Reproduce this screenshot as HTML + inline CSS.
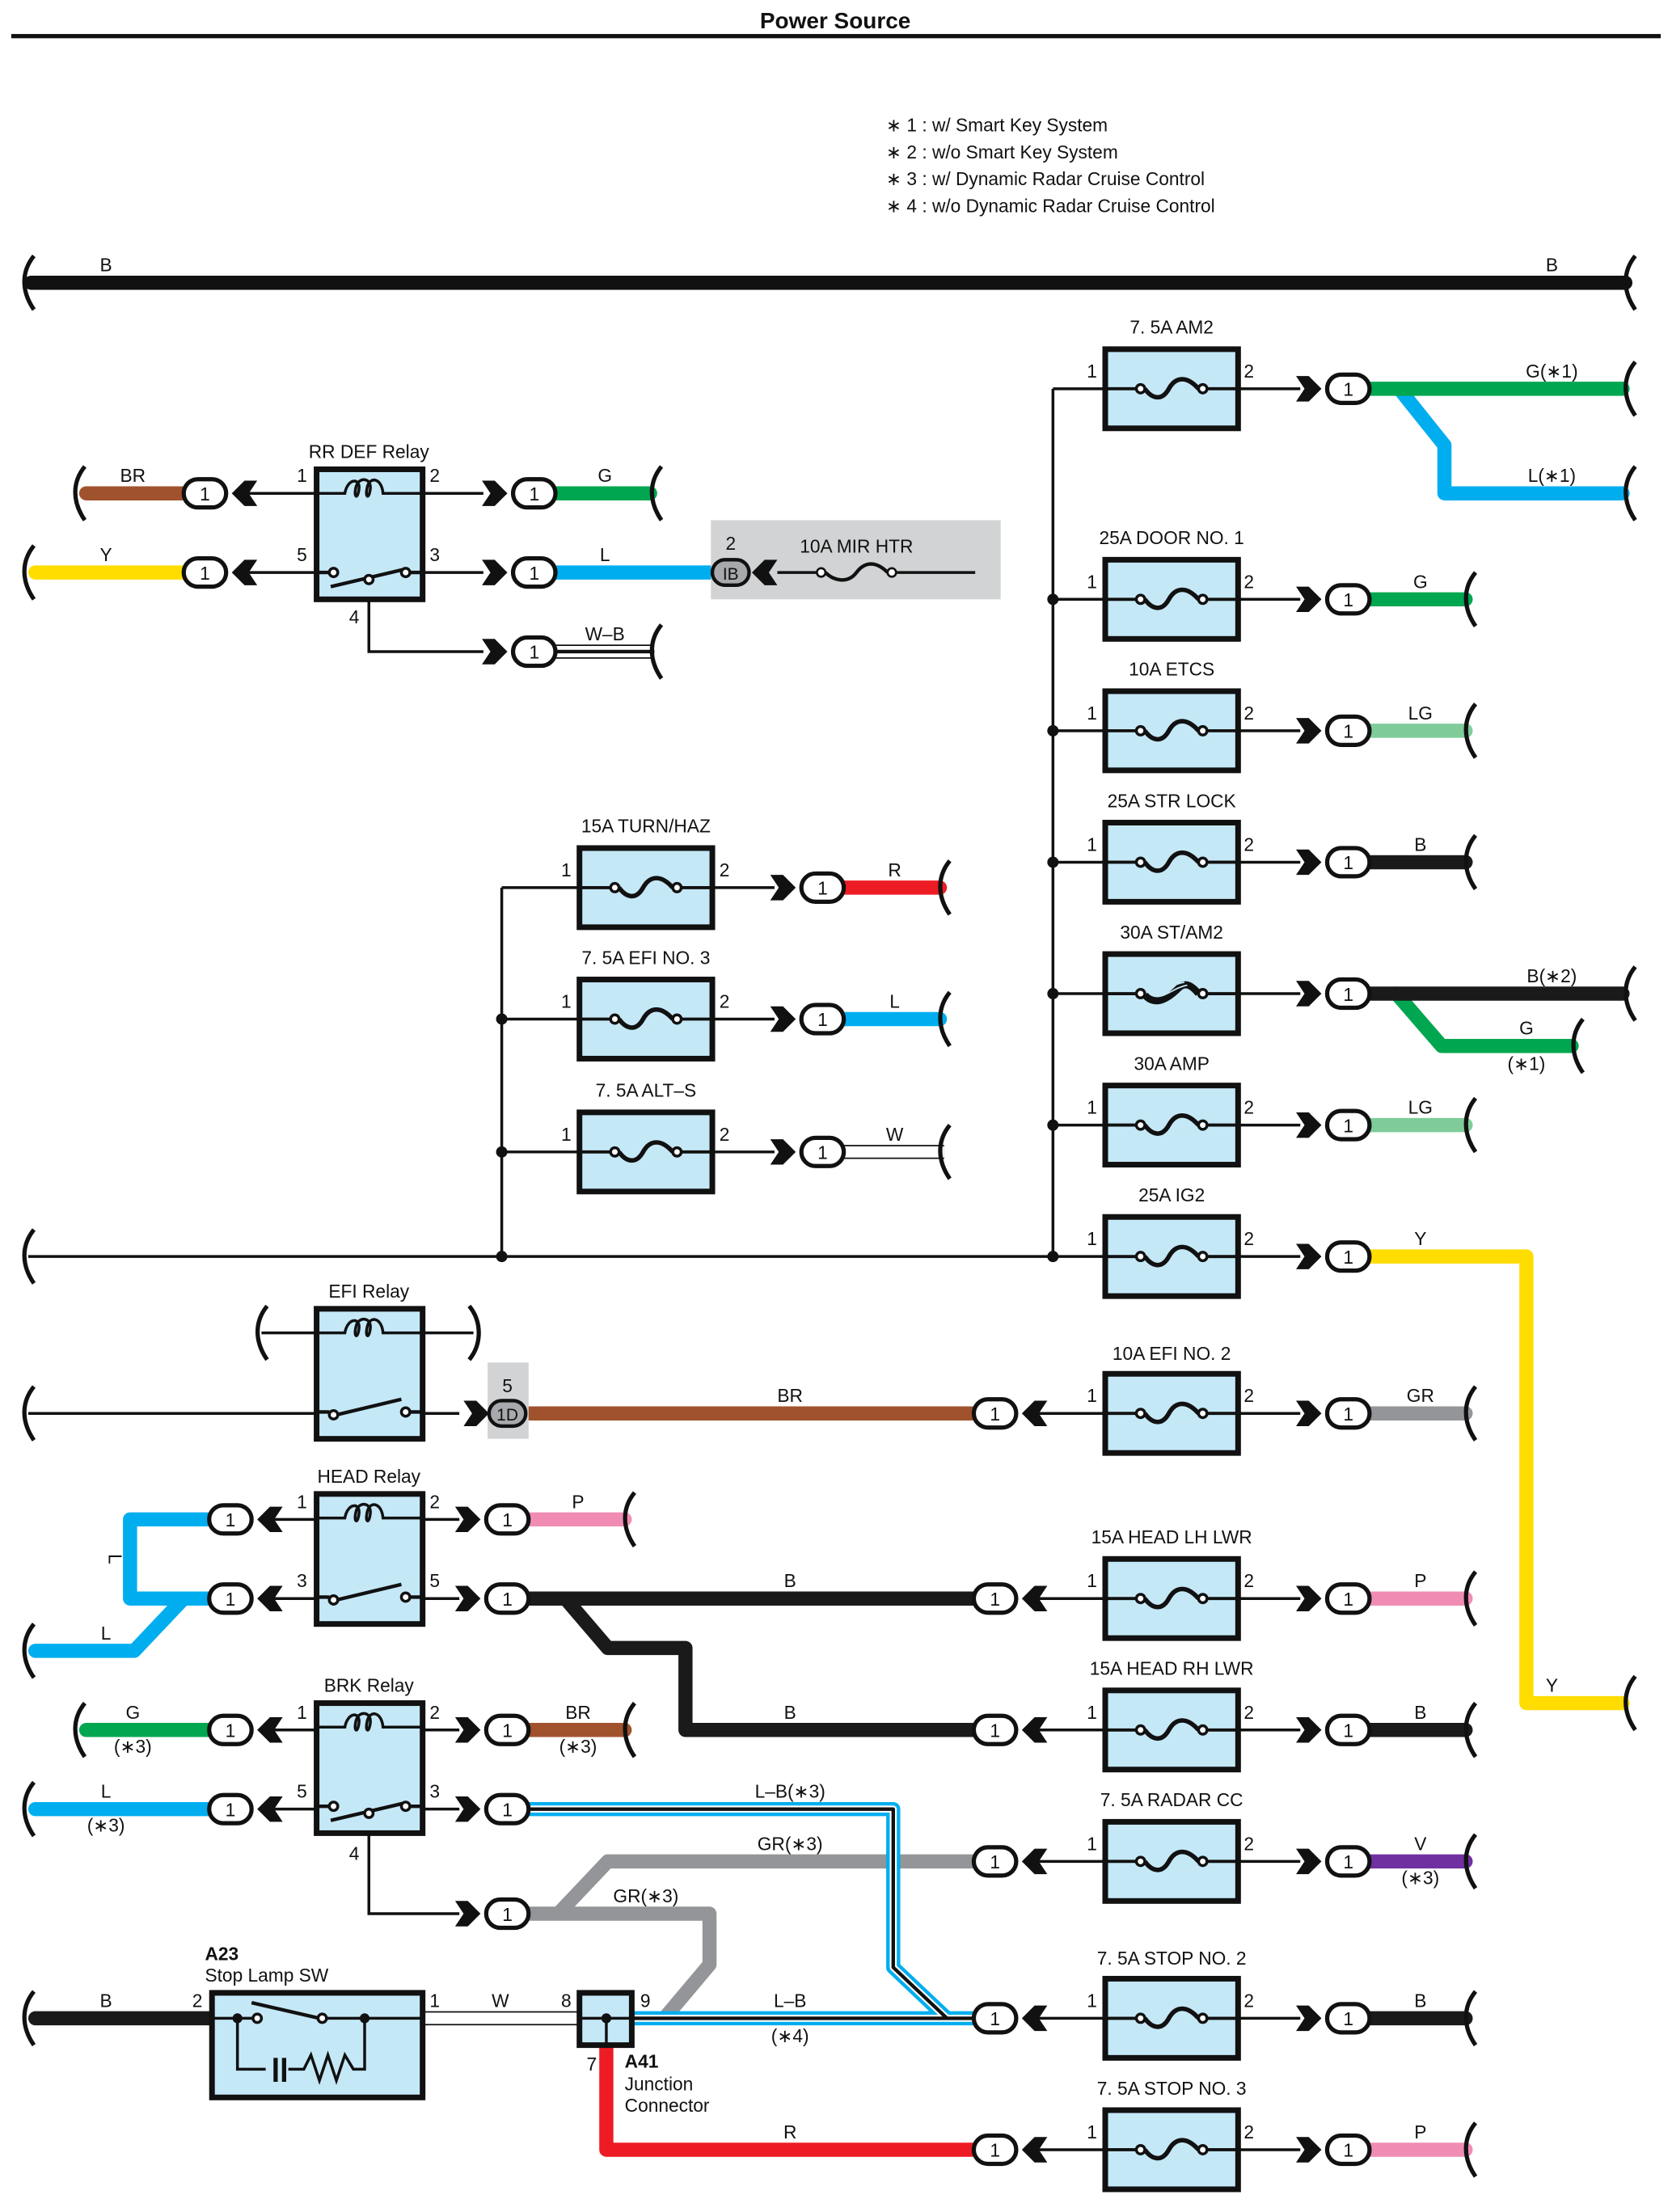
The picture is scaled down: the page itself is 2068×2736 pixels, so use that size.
<!DOCTYPE html>
<html><head><meta charset="utf-8"><style>
html,body{margin:0;padding:0;background:#fff}
svg{display:block}
text{font-family:"Liberation Sans",sans-serif;font-size:13px;fill:#111}
.c{text-anchor:middle}
</style></head><body>
<svg width="2068" height="2736" viewBox="0 0 1183 1565" xmlns="http://www.w3.org/2000/svg">
<defs>
<g id="fz"><rect x="0" y="0" width="94" height="56" fill="#c5e8f7" stroke="#111" stroke-width="4"/>
<path d="M-1,28H22M72,28H95" stroke="#111" stroke-width="2.2" fill="none"/>
<circle cx="25" cy="28" r="3" fill="#fff" stroke="#111" stroke-width="2"/><circle cx="69" cy="28" r="3" fill="#fff" stroke="#111" stroke-width="2"/>
<path d="M28,28C33,35 40,37 45,28C50,19 58,19 66,28" stroke="#111" stroke-width="3.2" fill="none"/></g>
<g id="fzb"><rect x="0" y="0" width="94" height="56" fill="#c5e8f7" stroke="#111" stroke-width="4"/>
<path d="M-1,28H22M72,28H95" stroke="#111" stroke-width="2.2" fill="none"/>
<circle cx="25" cy="28" r="3" fill="#fff" stroke="#111" stroke-width="2"/><circle cx="69" cy="28" r="3" fill="#fff" stroke="#111" stroke-width="2"/>
<path d="M28,29C36,38 46,30 52,24C57,19 62,23 66,28" stroke="#111" stroke-width="5" fill="none"/>
<path d="M36,30C44,30 48,24 58,22M38,26C44,26 48,21 56,20" stroke="#c5e8f7" stroke-width="1" fill="none"/></g>
<g id="cR"><polygon points="-37,-9 -28,-9 -19,0 -28,9 -37,9 -31,0" fill="#111"/><rect x="-15" y="-10" width="30" height="20" rx="10" fill="#fff" stroke="#111" stroke-width="3"/></g>
<g id="cL"><polygon points="37,-9 28,-9 19,0 28,9 37,9 31,0" fill="#111"/><rect x="-15" y="-10" width="30" height="20" rx="10" fill="#fff" stroke="#111" stroke-width="3"/></g>
<path id="br" d="M4,-19C-5,-8 -5,6 4,19" stroke="#111" stroke-width="3" fill="none"/>
<g id="rel"><rect x="0" y="0" width="75" height="92" fill="#c5e8f7" stroke="#111" stroke-width="4"/>
<path d="M-1,17H20C22,6 31,6 30,14C29,22 26,20 28,12C30,5 39,6 38,14C37,22 34,20 36,12C38,5 46,6 47,17H76" stroke="#111" stroke-width="2" fill="none"/>
<path d="M-1,73H9M66,73H76M10,83L61,71" stroke="#111" stroke-width="2.5" fill="none"/>
<circle cx="12" cy="73" r="3" fill="#fff" stroke="#111" stroke-width="2"/><circle cx="63" cy="73" r="3" fill="#fff" stroke="#111" stroke-width="2"/><circle cx="37" cy="78" r="3" fill="#fff" stroke="#111" stroke-width="2"/></g>
<g id="rel2"><rect x="0" y="0" width="75" height="92" fill="#c5e8f7" stroke="#111" stroke-width="4"/>
<path d="M-1,17H20C22,6 31,6 30,14C29,22 26,20 28,12C30,5 39,6 38,14C37,22 34,20 36,12C38,5 46,6 47,17H76" stroke="#111" stroke-width="2" fill="none"/>
<path d="M-1,73H9M66,73H76M14,75L60,64" stroke="#111" stroke-width="2.5" fill="none"/>
<circle cx="12" cy="75" r="3" fill="#fff" stroke="#111" stroke-width="2"/><circle cx="63" cy="73" r="3" fill="#fff" stroke="#111" stroke-width="2"/></g>
</defs>

<!-- title -->
<text x="591" y="20" class="c" style="font-size:16px;font-weight:bold">Power Source</text>
<rect x="8" y="24" width="1167" height="3" fill="#111"/>
<text x="627" y="93">∗ 1 : w/ Smart Key System</text>
<text x="627" y="112">∗ 2 : w/o Smart Key System</text>
<text x="627" y="131">∗ 3 : w/ Dynamic Radar Cruise Control</text>
<text x="627" y="150">∗ 4 : w/o Dynamic Radar Cruise Control</text>

<!-- B bus -->
<line x1="22" y1="200" x2="1150" y2="200" stroke="#111" stroke-width="10" stroke-linecap="round"/>
<use href="#br" x="20" y="200"/><use href="#br" x="1153" y="200"/>
<text x="75" y="192" class="c">B</text><text x="1098" y="192" class="c">B</text>

<!-- thin wires -->
<g stroke="#111" stroke-width="2" fill="none">
<path d="M20,889H782M745,275V889M355,628V889"/>
<path d="M745,275H782M745,424H782M745,517H782M745,610H782M745,703H782M745,796H782"/>
<path d="M355,628H410M355,721H410M355,815H410"/>
<path d="M876,275H920M876,424H920M876,517H920M876,610H920M876,703H920M876,796H920M876,889H920M876,1000H920M876,1131H920M876,1224H920M876,1317H920M876,1428H920M876,1521H920"/>
<path d="M504,628H548M504,721H548M504,815H548"/>
<path d="M725,1000H782M725,1131H782M725,1224H782M725,1317H782M725,1428H782M725,1521H782"/>
<path d="M165,349H224M165,405H224M299,349H342M299,405H342M261,424V461H342"/>
<path d="M20,1000H224M299,1000H325M185,943H224M299,943H335"/>
<path d="M183,1075H224M183,1131H224M299,1075H325M299,1131H325"/>
<path d="M183,1224H224M183,1280H224M299,1224H325M299,1280H325M261,1298V1354H325"/>
<path d="M555,405H690"/>
</g>
<g fill="#111"><circle cx="745" cy="424" r="4"/><circle cx="745" cy="517" r="4"/><circle cx="745" cy="610" r="4"/><circle cx="745" cy="703" r="4"/><circle cx="745" cy="796" r="4"/><circle cx="745" cy="889" r="4"/><circle cx="355" cy="721" r="4"/><circle cx="355" cy="815" r="4"/><circle cx="355" cy="889" r="4"/></g>
<use href="#br" x="20" y="889"/><use href="#br" x="20" y="1000"/><use href="#br" x="185" y="943"/>
<path d="M332,924C341,935 341,951 332,962" stroke="#111" stroke-width="3" fill="none"/>

<!-- right fuses -->
<use href="#fz" x="782" y="247"/><use href="#fz" x="782" y="396"/><use href="#fz" x="782" y="489"/><use href="#fz" x="782" y="582"/><use href="#fzb" x="782" y="675"/><use href="#fz" x="782" y="768"/><use href="#fz" x="782" y="861"/><use href="#fz" x="782" y="972"/><use href="#fz" x="782" y="1103"/><use href="#fz" x="782" y="1196"/><use href="#fz" x="782" y="1289"/><use href="#fz" x="782" y="1400"/><use href="#fz" x="782" y="1493"/>
<g class="c">
<text x="829" y="236" class="c">7. 5A AM2</text><text x="829" y="385" class="c">25A DOOR NO. 1</text><text x="829" y="478" class="c">10A ETCS</text><text x="829" y="571" class="c">25A STR LOCK</text><text x="829" y="664" class="c">30A ST/AM2</text><text x="829" y="757" class="c">30A AMP</text><text x="829" y="850" class="c">25A IG2</text><text x="829" y="962" class="c">10A EFI NO. 2</text><text x="829" y="1092" class="c">15A HEAD LH LWR</text><text x="829" y="1185" class="c">15A HEAD RH LWR</text><text x="829" y="1278" class="c">7. 5A RADAR CC</text><text x="829" y="1390" class="c">7. 5A STOP NO. 2</text><text x="829" y="1482" class="c">7. 5A STOP NO. 3</text>
</g>
<g>
<text x="769" y="267">1</text><text x="880" y="267">2</text>
<text x="769" y="416">1</text><text x="880" y="416">2</text>
<text x="769" y="509">1</text><text x="880" y="509">2</text>
<text x="769" y="602">1</text><text x="880" y="602">2</text>
<text x="769" y="788">1</text><text x="880" y="788">2</text>
<text x="769" y="881">1</text><text x="880" y="881">2</text>
<text x="769" y="992">1</text><text x="880" y="992">2</text>
<text x="769" y="1123">1</text><text x="880" y="1123">2</text>
<text x="769" y="1216">1</text><text x="880" y="1216">2</text>
<text x="769" y="1309">1</text><text x="880" y="1309">2</text>
<text x="769" y="1420">1</text><text x="880" y="1420">2</text>
<text x="769" y="1513">1</text><text x="880" y="1513">2</text>
</g>

<!-- mid fuses -->
<use href="#fz" x="410" y="600"/><use href="#fz" x="410" y="693"/><use href="#fz" x="410" y="787"/>
<text x="457" y="589" class="c">15A TURN/HAZ</text><text x="457" y="682" class="c">7. 5A EFI NO. 3</text><text x="457" y="776" class="c">7. 5A ALT–S</text>
<text x="397" y="620">1</text><text x="509" y="620">2</text><text x="397" y="713">1</text><text x="509" y="713">2</text><text x="397" y="807">1</text><text x="509" y="807">2</text>

<!-- colored wires -->
<g fill="none" stroke-linejoin="round" stroke-linecap="round">
<path d="M990,275L1022,315V349H1148" stroke="#00aeef" stroke-width="10"/>
<path d="M968,275H1148" stroke="#00a650" stroke-width="10"/>
<path d="M968,424H1037" stroke="#00a650" stroke-width="10"/>
<path d="M968,517H1037" stroke="#7fcc9a" stroke-width="10"/>
<path d="M968,610H1037" stroke="#1a1a1a" stroke-width="10"/>
<path d="M988,703L1020,740H1112" stroke="#00a650" stroke-width="10"/>
<path d="M968,703H1148" stroke="#1a1a1a" stroke-width="10"/>
<path d="M968,796H1037" stroke="#7fcc9a" stroke-width="10"/>
<path d="M968,889H1080V1205H1148" stroke="#ffdd00" stroke-width="10"/>
<path d="M968,1000H1037" stroke="#939598" stroke-width="10"/>
<path d="M968,1131H1037" stroke="#f08cb4" stroke-width="10"/>
<path d="M968,1224H1037" stroke="#1a1a1a" stroke-width="10"/>
<path d="M968,1317H1037" stroke="#7030a0" stroke-width="10"/>
<path d="M968,1428H1037" stroke="#1a1a1a" stroke-width="10"/>
<path d="M968,1521H1037" stroke="#f08cb4" stroke-width="10"/>
<path d="M596,628H665" stroke="#ed1c24" stroke-width="10"/>
<path d="M596,721H665" stroke="#00aeef" stroke-width="10"/>
<path d="M392,349H460" stroke="#00a650" stroke-width="10"/>
<path d="M392,405H503" stroke="#00aeef" stroke-width="10"/>
<path d="M61,349H131" stroke="#a0522d" stroke-width="10"/>
<path d="M25,405H131" stroke="#ffdd00" stroke-width="10"/>
<path d="M373,1000H690" stroke="#a0522d" stroke-width="10"/>
<path d="M149,1075H92V1131H149M130,1131L95,1168H25" stroke="#00aeef" stroke-width="10"/>
<path d="M373,1075H442" stroke="#f08cb4" stroke-width="10"/>
<path d="M373,1131H690M400,1131L430,1166H485V1224H690" stroke="#1a1a1a" stroke-width="10"/>
<path d="M61,1224H149" stroke="#00a650" stroke-width="10"/>
<path d="M25,1280H149" stroke="#00aeef" stroke-width="10"/>
<path d="M373,1224H442" stroke="#a0522d" stroke-width="10"/>
<path d="M690,1317H430L395,1354M373,1354H502V1390L470,1428" stroke="#939598" stroke-width="10"/>
<path d="M373,1280H632V1392L670,1428H690M447,1428H690" stroke="#00aeef" stroke-width="10"/>
<path d="M373,1280H632V1392L670,1428H690M447,1428H690" stroke="#fff" stroke-width="5"/>
<path d="M373,1280H632V1392L670,1428H690M447,1428H690" stroke="#111" stroke-width="2.5"/>
<path d="M25,1428H150" stroke="#1a1a1a" stroke-width="10"/>
<path d="M429,1448V1521H690" stroke="#ed1c24" stroke-width="10"/>
</g>
<g fill="none"><path d="M596,815H668M392,461H463M299,1428H410" stroke="#111" stroke-width="10"/><path d="M596,815H668M392,461H463M299,1428H410" stroke="#fff" stroke-width="8"/><path d="M392,461H463" stroke="#111" stroke-width="2.5"/></g>

<!-- brackets -->
<use href="#br" x="1040" y="424"/><use href="#br" x="1040" y="517"/><use href="#br" x="1040" y="610"/><use href="#br" x="1040" y="796"/><use href="#br" x="1040" y="1000"/><use href="#br" x="1040" y="1131"/><use href="#br" x="1040" y="1224"/><use href="#br" x="1040" y="1317"/><use href="#br" x="1040" y="1428"/><use href="#br" x="1040" y="1521"/>
<use href="#br" x="1153" y="275"/><use href="#br" x="1153" y="349"/><use href="#br" x="1153" y="703"/><use href="#br" x="1116" y="740"/><use href="#br" x="1153" y="1205"/>
<use href="#br" x="668" y="628"/><use href="#br" x="668" y="721"/><use href="#br" x="668" y="815"/>
<use href="#br" x="464" y="349"/><use href="#br" x="464" y="461"/><use href="#br" x="445" y="1075"/><use href="#br" x="445" y="1224"/>
<use href="#br" x="56" y="349"/><use href="#br" x="20" y="405"/><use href="#br" x="20" y="1168"/><use href="#br" x="56" y="1224"/><use href="#br" x="20" y="1280"/><use href="#br" x="20" y="1428"/>

<!-- connectors -->
<g>
<use href="#cR" x="954" y="275"/><use href="#cR" x="954" y="424"/><use href="#cR" x="954" y="517"/><use href="#cR" x="954" y="610"/><use href="#cR" x="954" y="703"/><use href="#cR" x="954" y="796"/><use href="#cR" x="954" y="889"/><use href="#cR" x="954" y="1000"/><use href="#cR" x="954" y="1131"/><use href="#cR" x="954" y="1224"/><use href="#cR" x="954" y="1317"/><use href="#cR" x="954" y="1428"/><use href="#cR" x="954" y="1521"/>
<use href="#cR" x="582" y="628"/><use href="#cR" x="582" y="721"/><use href="#cR" x="582" y="815"/>
<use href="#cR" x="378" y="349"/><use href="#cR" x="378" y="405"/><use href="#cR" x="378" y="461"/>
<use href="#cL" x="145" y="349"/><use href="#cL" x="145" y="405"/>
<use href="#cL" x="704" y="1000"/><use href="#cL" x="704" y="1131"/><use href="#cL" x="704" y="1224"/><use href="#cL" x="704" y="1317"/><use href="#cL" x="704" y="1428"/><use href="#cL" x="704" y="1521"/>
<use href="#cL" x="163" y="1075"/><use href="#cL" x="163" y="1131"/><use href="#cL" x="163" y="1224"/><use href="#cL" x="163" y="1280"/>
<use href="#cR" x="359" y="1075"/><use href="#cR" x="359" y="1131"/><use href="#cR" x="359" y="1224"/><use href="#cR" x="359" y="1280"/><use href="#cR" x="359" y="1354"/>
</g>
<g class="c" style="font-size:12px">
<text x="954" y="280" class="c">1</text><text x="954" y="429" class="c">1</text><text x="954" y="522" class="c">1</text><text x="954" y="615" class="c">1</text><text x="954" y="708" class="c">1</text><text x="954" y="801" class="c">1</text><text x="954" y="894" class="c">1</text><text x="954" y="1005" class="c">1</text><text x="954" y="1136" class="c">1</text><text x="954" y="1229" class="c">1</text><text x="954" y="1322" class="c">1</text><text x="954" y="1433" class="c">1</text><text x="954" y="1526" class="c">1</text>
<text x="582" y="633" class="c">1</text><text x="582" y="726" class="c">1</text><text x="582" y="820" class="c">1</text>
<text x="378" y="354" class="c">1</text><text x="378" y="410" class="c">1</text><text x="378" y="466" class="c">1</text>
<text x="145" y="354" class="c">1</text><text x="145" y="410" class="c">1</text>
<text x="704" y="1005" class="c">1</text><text x="704" y="1136" class="c">1</text><text x="704" y="1229" class="c">1</text><text x="704" y="1322" class="c">1</text><text x="704" y="1433" class="c">1</text><text x="704" y="1526" class="c">1</text>
<text x="163" y="1080" class="c">1</text><text x="163" y="1136" class="c">1</text><text x="163" y="1229" class="c">1</text><text x="163" y="1285" class="c">1</text>
<text x="359" y="1080" class="c">1</text><text x="359" y="1136" class="c">1</text><text x="359" y="1229" class="c">1</text><text x="359" y="1285" class="c">1</text><text x="359" y="1359" class="c">1</text>
</g>

<!-- wire labels -->
<g>
<text x="1098" y="267" class="c">G(∗1)</text><text x="1098" y="341" class="c">L(∗1)</text>
<text x="1005" y="416" class="c">G</text><text x="1005" y="509" class="c">LG</text><text x="1005" y="602" class="c">B</text>
<text x="1098" y="695" class="c">B(∗2)</text><text x="1080" y="732" class="c">G</text><text x="1080" y="757" class="c">(∗1)</text>
<text x="1005" y="788" class="c">LG</text><text x="1005" y="881" class="c">Y</text><text x="1005" y="992" class="c">GR</text>
<text x="1005" y="1123" class="c">P</text><text x="1098" y="1197" class="c">Y</text><text x="1005" y="1216" class="c">B</text>
<text x="1005" y="1309" class="c">V</text><text x="1005" y="1333" class="c">(∗3)</text><text x="1005" y="1420" class="c">B</text><text x="1005" y="1513" class="c">P</text>
<text x="633" y="620" class="c">R</text><text x="633" y="713" class="c">L</text><text x="633" y="807" class="c">W</text>
<text x="428" y="341" class="c">G</text><text x="428" y="397" class="c">L</text><text x="428" y="453" class="c">W–B</text>
<text x="94" y="341" class="c">BR</text><text x="75" y="397" class="c">Y</text>
<text x="559" y="992" class="c">BR</text>
<text x="409" y="1067" class="c">P</text><text x="559" y="1123" class="c">B</text><text x="559" y="1216" class="c">B</text>
<text x="75" y="1160" class="c">L</text><text x="77" y="1103" class="c" transform="rotate(90 77 1103)">L</text>
<text x="94" y="1216" class="c">G</text><text x="94" y="1240" class="c">(∗3)</text>
<text x="75" y="1272" class="c">L</text><text x="75" y="1296" class="c">(∗3)</text>
<text x="409" y="1216" class="c">BR</text><text x="409" y="1240" class="c">(∗3)</text>
<text x="559" y="1272" class="c">L–B(∗3)</text><text x="559" y="1309" class="c">GR(∗3)</text><text x="457" y="1346" class="c">GR(∗3)</text>
<text x="559" y="1420" class="c">L–B</text><text x="559" y="1445" class="c">(∗4)</text><text x="559" y="1513" class="c">R</text>
<text x="75" y="1420" class="c">B</text><text x="354" y="1420" class="c">W</text>
</g>

<!-- relays -->
<use href="#rel" x="224" y="332"/><use href="#rel2" x="224" y="926"/><use href="#rel2" x="224" y="1057"/><use href="#rel" x="224" y="1205"/>
<text x="261" y="324" class="c">RR DEF Relay</text><text x="261" y="918" class="c">EFI Relay</text><text x="261" y="1049" class="c">HEAD Relay</text><text x="261" y="1197" class="c">BRK Relay</text>
<text x="210" y="341">1</text><text x="304" y="341">2</text><text x="210" y="397">5</text><text x="304" y="397">3</text><text x="247" y="441">4</text>
<text x="210" y="1067">1</text><text x="304" y="1067">2</text><text x="210" y="1123">3</text><text x="304" y="1123">5</text>
<text x="210" y="1216">1</text><text x="304" y="1216">2</text><text x="210" y="1272">5</text><text x="304" y="1272">3</text><text x="247" y="1316">4</text>

<!-- 1D connector -->
<rect x="345" y="964" width="29" height="54" fill="#d1d3d4"/>
<polygon points="328,991 337,991 346,1000 337,1009 328,1009 334,1000" fill="#111"/>
<rect x="346" y="991" width="26" height="18" rx="9" fill="#a7a9ac" stroke="#111" stroke-width="2.5"/>
<text x="359" y="1005" class="c" style="font-size:12px">1D</text><text x="359" y="985" class="c">5</text>

<!-- MIR HTR -->
<rect x="503" y="368" width="205" height="56" fill="#d1d3d4"/>
<rect x="504" y="396" width="26" height="18" rx="9" fill="#a7a9ac" stroke="#111" stroke-width="2.5"/>
<polygon points="550,396 541,396 532,405 541,414 550,414 544,405" fill="#111"/>
<text x="517" y="410" class="c" style="font-size:12px">IB</text><text x="517" y="389" class="c">2</text>
<text x="606" y="391" class="c">10A MIR HTR</text>
<line x1="550" y1="405" x2="690" y2="405" stroke="#111" stroke-width="2"/>
<rect x="578" y="400" width="56" height="10" fill="#d1d3d4"/>
<circle cx="581" cy="405" r="3" fill="#fff" stroke="#111" stroke-width="1.5"/><circle cx="631" cy="405" r="3" fill="#fff" stroke="#111" stroke-width="1.5"/>
<path d="M584,405C590,411 600,413 606,405C612,397 620,397 628,405" stroke="#111" stroke-width="2.5" fill="none"/>

<!-- A23 Stop lamp SW -->
<rect x="150" y="1410" width="149" height="74" fill="#c5e8f7" stroke="#111" stroke-width="4"/>
<path d="M150,1428H179M231,1428H299M168,1428V1464H188M204,1464H215L220,1454L226,1472L232,1454L238,1472L244,1454L250,1464H258V1428" stroke="#111" stroke-width="2" fill="none"/>
<path d="M195,1456V1473M201,1456V1473" stroke="#111" stroke-width="3"/>
<path d="M178,1417L226,1428" stroke="#111" stroke-width="2.5"/>
<circle cx="168" cy="1428" r="3.5" fill="#111"/><circle cx="258" cy="1428" r="3.5" fill="#111"/>
<circle cx="182" cy="1428" r="3" fill="#fff" stroke="#111" stroke-width="2"/><circle cx="228" cy="1428" r="3" fill="#fff" stroke="#111" stroke-width="2"/>
<text x="145" y="1387" style="font-weight:bold">A23</text><text x="145" y="1402">Stop Lamp SW</text>
<text x="136" y="1420">2</text><text x="304" y="1420">1</text>

<!-- A41 -->
<rect x="410" y="1410" width="37" height="37" fill="#c5e8f7" stroke="#111" stroke-width="4"/>
<path d="M410,1428H447M429,1428V1447" stroke="#111" stroke-width="2"/>
<circle cx="429" cy="1428" r="3.5" fill="#111"/>
<text x="397" y="1420">8</text><text x="453" y="1420">9</text><text x="415" y="1465">7</text>
<text x="442" y="1463" style="font-weight:bold">A41</text><text x="442" y="1479">Junction</text><text x="442" y="1494">Connector</text>
</svg>
</body></html>
